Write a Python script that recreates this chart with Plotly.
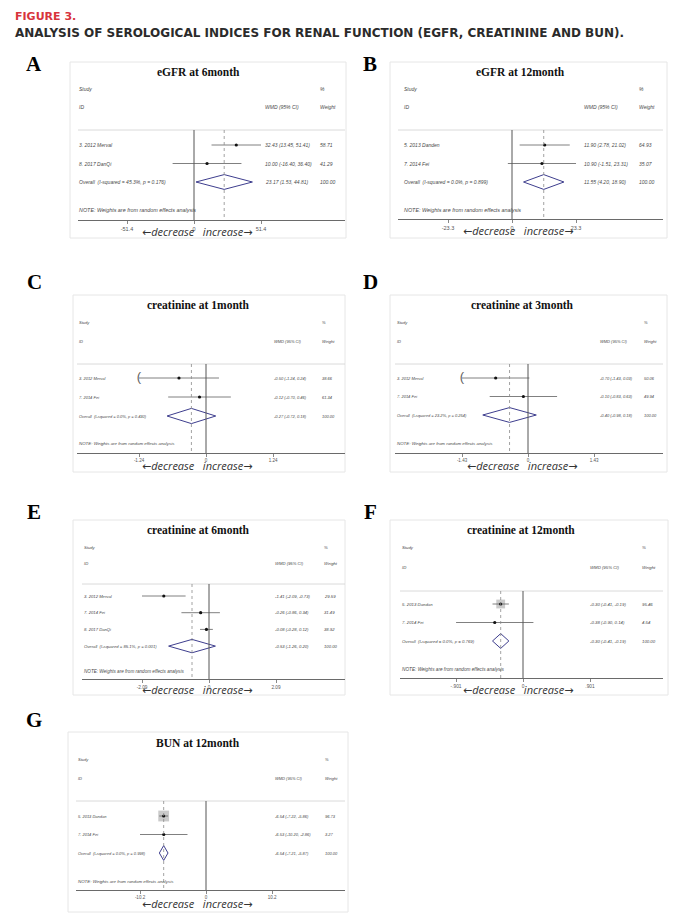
import plotly.graph_objects as go

W, H = 693, 919

# ------------------------------------------------------------------ data
A_title = "eGFR at 6month"
A_studies = ["3. 2012 Merval", "8. 2017 DanQi"]
A_est = [32.43, 10.00]
A_lo = [13.45, -16.40]
A_hi = [51.41, 36.40]
A_wt = [58.71, 41.29]
A_overall = [23.17, 1.53, 44.81]
A_het = "Overall  (I-squared = 45.3%, p = 0.176)"
A_tickvals = [-51.4, 0, 51.4]
A_ticktext = ["-51.4", "0", "51.4"]
A_clip = [False, False]

B_title = "eGFR at 12month"
B_studies = ["5. 2013 Danden", "7. 2014 Fei"]
B_est = [11.90, 10.90]
B_lo = [2.78, -1.51]
B_hi = [21.02, 23.31]
B_wt = [64.93, 35.07]
B_overall = [11.55, 4.20, 18.90]
B_het = "Overall  (I-squared = 0.0%, p = 0.899)"
B_tickvals = [-23.3, 0, 23.3]
B_ticktext = ["-23.3", "0", "23.3"]
B_clip = [False, False]

C_title = "creatinine at 1month"
C_studies = ["3. 2012 Merval", "7. 2014 Fei"]
C_est = [-0.50, -0.12]
C_lo = [-1.24, -0.70]
C_hi = [0.24, 0.46]
C_wt = [38.66, 61.34]
C_overall = [-0.27, -0.72, 0.18]
C_het = "Overall  (I-squared = 0.0%, p = 0.430)"
C_tickvals = [-1.24, 0, 1.24]
C_ticktext = ["-1.24", "0", "1.24"]
C_clip = [True, False]

D_title = "creatinine at 3month"
D_studies = ["3. 2012 Merval", "7. 2014 Fei"]
D_est = [-0.70, -0.10]
D_lo = [-1.43, -0.83]
D_hi = [0.03, 0.63]
D_wt = [50.06, 49.94]
D_overall = [-0.40, -0.98, 0.18]
D_het = "Overall  (I-squared = 23.2%, p = 0.254)"
D_tickvals = [-1.43, 0, 1.43]
D_ticktext = ["-1.43", "0", "1.43"]
D_clip = [True, False]

E_title = "creatinine at 6month"
E_studies = ["3. 2012 Merval", "7. 2014 Fei", "8. 2017 DanQi"]
E_est = [-1.41, -0.26, -0.08]
E_lo = [-2.09, -0.86, -0.28]
E_hi = [-0.73, 0.34, 0.12]
E_wt = [29.59, 31.49, 38.92]
E_overall = [-0.53, -1.26, 0.20]
E_het = "Overall  (I-squared = 85.1%, p = 0.001)"
E_tickvals = [-2.09, 0, 2.09]
E_ticktext = ["-2.09", "0", "2.09"]
E_clip = [False, False, False]

F_title = "creatinine at 12month"
F_studies = ["5. 2013 Dandan", "7. 2014 Fei"]
F_est = [-0.30, -0.38]
F_lo = [-0.41, -0.90]
F_hi = [-0.19, 0.14]
F_wt = [95.46, 4.54]
F_overall = [-0.30, -0.41, -0.19]
F_het = "Overall  (I-squared = 0.0%, p = 0.769)"
F_tickvals = [-0.901, 0, 0.901]
F_ticktext = ["-.901", "0", ".901"]
F_clip = [False, False]

G_title = "BUN at 12month"
G_studies = ["5. 2013 Dandan", "7. 2014 Fei"]
G_est = [-6.54, -6.53]
G_lo = [-7.22, -10.20]
G_hi = [-5.86, -2.86]
G_wt = [96.73, 3.27]
G_overall = [-6.54, -7.21, -5.87]
G_het = "Overall  (I-squared = 0.0%, p = 0.998)"
G_tickvals = [-10.2, 0, 10.2]
G_ticktext = ["-10.2", "0", "10.2"]
G_clip = [False, False]

panels = [
    ("A", A_title, A_studies, A_est, A_lo, A_hi, A_wt, A_overall, A_het, A_tickvals, A_ticktext, A_clip),
    ("B", B_title, B_studies, B_est, B_lo, B_hi, B_wt, B_overall, B_het, B_tickvals, B_ticktext, B_clip),
    ("C", C_title, C_studies, C_est, C_lo, C_hi, C_wt, C_overall, C_het, C_tickvals, C_ticktext, C_clip),
    ("D", D_title, D_studies, D_est, D_lo, D_hi, D_wt, D_overall, D_het, D_tickvals, D_ticktext, D_clip),
    ("E", E_title, E_studies, E_est, E_lo, E_hi, E_wt, E_overall, E_het, E_tickvals, E_ticktext, E_clip),
    ("F", F_title, F_studies, F_est, F_lo, F_hi, F_wt, F_overall, F_het, F_tickvals, F_ticktext, F_clip),
    ("G", G_title, G_studies, G_est, G_lo, G_hi, G_wt, G_overall, G_het, G_tickvals, G_ticktext, G_clip),
]

# ------------------------------------------------------------------ layout geometry (pixels)
geo = {
    "A": dict(letter=(34, 64), box=(70, 62, 346, 238), title=(198, 72), study_x=77, hdr=(89, 107),
              wmd_x=263, wt_x=318, sep=130, line=(78, 345), row1=145, sp=18.5, note=210, axis=220,
              x0=194, tick_px=261, dec=(197, 232), fs=5.0, box_sz=0),
    "B": dict(letter=(370, 64), box=(390, 62, 667, 238), title=(520, 72), study_x=402, hdr=(89, 107),
              wmd_x=582, wt_x=637, sep=130, line=(398, 663), row1=145, sp=18.5, note=210, axis=219,
              x0=512, tick_px=576, dec=(518, 231), fs=5.0, box_sz=0),
    "C": dict(letter=(34, 282), box=(73, 295, 345, 472), title=(198, 305), study_x=77, hdr=(322, 341),
              wmd_x=272, wt_x=320, sep=364, line=(77, 345), row1=378, sp=19, note=443, axis=453,
              x0=206, tick_px=273, dec=(197, 465), fs=4.0, box_sz=0),
    "D": dict(letter=(370, 282), box=(390, 295, 667, 472), title=(522, 305), study_x=395, hdr=(322, 341),
              wmd_x=598, wt_x=642, sep=364, line=(395, 663), row1=378, sp=18.5, note=443, axis=453,
              x0=528, tick_px=594, dec=(522, 465), fs=4.0, box_sz=0),
    "E": dict(letter=(34, 512), box=(73, 520, 345, 695), title=(198, 530), study_x=82, hdr=(547, 563),
              wmd_x=273, wt_x=322, sep=584, line=(82, 345), row1=596, sp=16.7, note=671, axis=679,
              x0=209, tick_px=276, dec=(197, 689), fs=4.2, box_sz=0),
    "F": dict(letter=(370, 512), box=(390, 520, 668, 695), title=(521, 530), study_x=400, hdr=(547, 567),
              wmd_x=588, wt_x=640, sep=591, line=(400, 663), row1=604, sp=18.5, note=669, axis=678,
              x0=523, tick_px=590, dec=(518, 689), fs=4.3, box_sz=9),
    "G": dict(letter=(34, 720), box=(68, 732, 348, 912), title=(198, 743), study_x=76, hdr=(759, 778),
              wmd_x=273, wt_x=323, sep=801, line=(76, 345), row1=816, sp=18.5, note=881, axis=890,
              x0=206, tick_px=272, dec=(197, 903), fs=4.0, box_sz=11),
}

SMALL_FONT = "Liberation Sans, Arial, sans-serif"
SERIF = "Liberation Serif, Times New Roman, serif"
TXT = "#4a4a4a"
ARROW_SPAN = "<span style='font-family:DejaVu Sans'>{}</span>"


def px(x):
    return x / W


def py(y):
    return 1 - y / H


fig = go.Figure()
annotations = []
shapes = []
layout_axes = {}

for k, (key, title, studies, est, lo, hi, wt, overall, het, tickvals, ticktext, clip) in enumerate(panels, start=1):
    g = geo[key]
    xr = "x" if k == 1 else f"x{k}"
    yr = "y" if k == 1 else f"y{k}"
    xname = "xaxis" if k == 1 else f"xaxis{k}"
    yname = "yaxis" if k == 1 else f"yaxis{k}"

    s = (g["tick_px"] - g["x0"]) / tickvals[-1]
    lineL, lineR = g["line"]

    def rowval(p, g=g):
        return (p - g["row1"]) / g["sp"] + 1

    layout_axes[xname] = dict(
        domain=[px(lineL), px(lineR)],
        range=[(lineL - g["x0"]) / s, (lineR - g["x0"]) / s],
        anchor=yr, showline=True, linecolor="#6a6a6a", linewidth=1,
        ticks="outside", ticklen=3, tickwidth=0.8, tickcolor="#6a6a6a",
        tickvals=tickvals, ticktext=ticktext,
        tickfont=dict(size=g["fs"] + 0.5, color="#555", family=SMALL_FONT),
        showgrid=False, zeroline=False, fixedrange=True,
    )
    layout_axes[yname] = dict(
        domain=[py(g["axis"]), py(g["box"][1])],
        range=[rowval(g["axis"]), rowval(g["box"][1])],
        anchor=xr, visible=False, showgrid=False, zeroline=False, fixedrange=True,
    )

    n = len(studies)
    rows = list(range(1, n + 1))
    orow = n + 1

    # panel frame
    L, T, R, B = g["box"]
    shapes.append(dict(type="rect", xref="paper", yref="paper", x0=px(L), x1=px(R), y0=py(B), y1=py(T),
                       line=dict(color="#e6e6e6", width=1), fillcolor="rgba(0,0,0,0)", layer="below"))
    # separator
    shapes.append(dict(type="line", xref="paper", yref="paper", x0=px(lineL), x1=px(lineR),
                       y0=py(g["sep"]), y1=py(g["sep"]), line=dict(color="#d0d0d0", width=0.8)))
    # no-effect line
    shapes.append(dict(type="line", xref=xr, yref=yr, x0=0, x1=0, y0=rowval(g["sep"]), y1=rowval(g["axis"]),
                       line=dict(color="#555", width=1)))
    # overall dashed line
    shapes.append(dict(type="line", xref=xr, yref=yr, x0=overall[0], x1=overall[0],
                       y0=rowval(g["sep"]), y1=rowval(g["axis"]),
                       line=dict(color="#8a8a8a", width=0.8, dash="dot")))

    # weight boxes
    if g["box_sz"] > 0:
        fig.add_trace(go.Scatter(
            x=est, y=rows, mode="markers", xaxis=xr, yaxis=yr, hoverinfo="skip",
            marker=dict(symbol="square", color="#b4b4b4",
                        size=[g["box_sz"] * (w / 100) ** 0.5 for w in wt], line=dict(width=0))))
    # CI lines
    for i in range(n):
        fig.add_trace(go.Scatter(x=[lo[i], hi[i]], y=[rows[i], rows[i]], mode="lines", xaxis=xr, yaxis=yr,
                                 line=dict(color="#606060", width=0.8), hoverinfo="skip"))
        if clip[i]:
            fig.add_trace(go.Scatter(x=[lo[i]], y=[rows[i]], mode="text", xaxis=xr, yaxis=yr,
                                     text=["("], textposition="middle center",
                                     textfont=dict(family=SMALL_FONT, size=13, color="#606060"),
                                     hoverinfo="skip"))
    # point estimates
    fig.add_trace(go.Scatter(x=est, y=rows, mode="markers", xaxis=xr, yaxis=yr, hoverinfo="skip",
                             marker=dict(symbol="circle", color="#111", size=3.2)))
    # diamond
    h = 0.4
    fig.add_trace(go.Scatter(
        x=[overall[1], overall[0], overall[2], overall[0], overall[1]],
        y=[orow, orow - h, orow, orow + h, orow],
        mode="lines", xaxis=xr, yaxis=yr, hoverinfo="skip",
        line=dict(color="#3e3e8e", width=1)))

    fs = g["fs"]
    sf = dict(family=SMALL_FONT, size=fs, color=TXT)

    def add_txt(text, x, y, yref="paper", font=sf, xanchor="left"):
        annotations.append(dict(text=text, x=x, y=y, xref="paper", yref=yref, showarrow=False,
                                xanchor=xanchor, yanchor="middle", font=font))

    # letter + title
    add_txt(f"<b>{key}</b>", px(g["letter"][0]), py(g["letter"][1]),
            font=dict(family=SERIF, size=21, color="#000"), xanchor="center")
    add_txt(f"<b>{title}</b>", px(g["title"][0]), py(g["title"][1]),
            font=dict(family=SERIF, size=11.5, color="#111"), xanchor="center")
    # headers
    add_txt("<i>Study</i>", px(g["study_x"]), py(g["hdr"][0]))
    add_txt("<i>ID</i>", px(g["study_x"]), py(g["hdr"][1]))
    add_txt("<i>%</i>", px(g["wt_x"]), py(g["hdr"][0]))
    add_txt("<i>WMD (95% CI)</i>", px(g["wmd_x"]), py(g["hdr"][1]))
    add_txt("<i>Weight</i>", px(g["wt_x"]), py(g["hdr"][1]))
    # rows
    for i in range(n):
        add_txt(f"<i>{studies[i]}</i>", px(g["study_x"]), rows[i], yref=yr)
        add_txt(f"<i>{est[i]:.2f} ({lo[i]:.2f}, {hi[i]:.2f})</i>", px(g["wmd_x"]), rows[i], yref=yr)
        add_txt(f"<i>{wt[i]:.2f}</i>", px(g["wt_x"]), rows[i], yref=yr)
    add_txt(f"<i>{het}</i>", px(g["study_x"]), orow, yref=yr)
    add_txt(f"<i>{overall[0]:.2f} ({overall[1]:.2f}, {overall[2]:.2f})</i>", px(g["wmd_x"]), orow, yref=yr)
    add_txt("<i>100.00</i>", px(g["wt_x"]), orow, yref=yr)
    add_txt("<i>NOTE: Weights are from random effects analysis</i>", px(g["study_x"]), py(g["note"]),
            font=dict(family=SMALL_FONT, size=fs + 0.4, color=TXT))
    # direction label
    dec_text = ("<i>" + ARROW_SPAN.format("\u2190") + "decrease   increase" + ARROW_SPAN.format("\u2192") + "</i>")
    add_txt(dec_text, px(g["dec"][0]), py(g["dec"][1]),
            font=dict(family="Open Sans, Liberation Sans, sans-serif", size=11, color="#333"),
            xanchor="center")

# figure heading
annotations.append(dict(text="<b>FIGURE 3.</b>", x=px(13), y=py(16), xref="paper", yref="paper",
                        showarrow=False, xanchor="left", yanchor="middle",
                        font=dict(family="DejaVu Sans, sans-serif", size=11, color="#d8343c")))
annotations.append(dict(text="<b>ANALYSIS OF SEROLOGICAL INDICES FOR RENAL FUNCTION (EGFR, CREATININE AND BUN).</b>",
                        x=px(13), y=py(33), xref="paper", yref="paper",
                        showarrow=False, xanchor="left", yanchor="middle",
                        font=dict(family="DejaVu Sans, sans-serif", size=12, color="#2b2b2b")))

fig.update_layout(
    width=W, height=H, margin=dict(l=0, r=0, t=0, b=0),
    paper_bgcolor="white", plot_bgcolor="rgba(0,0,0,0)",
    showlegend=False, annotations=annotations, shapes=shapes,
    **layout_axes,
)

fig.write_html("out.html", config={"displayModeBar": False, "staticPlot": True},
               post_script="document.body.style.margin='0px';document.body.style.padding='0px';")
